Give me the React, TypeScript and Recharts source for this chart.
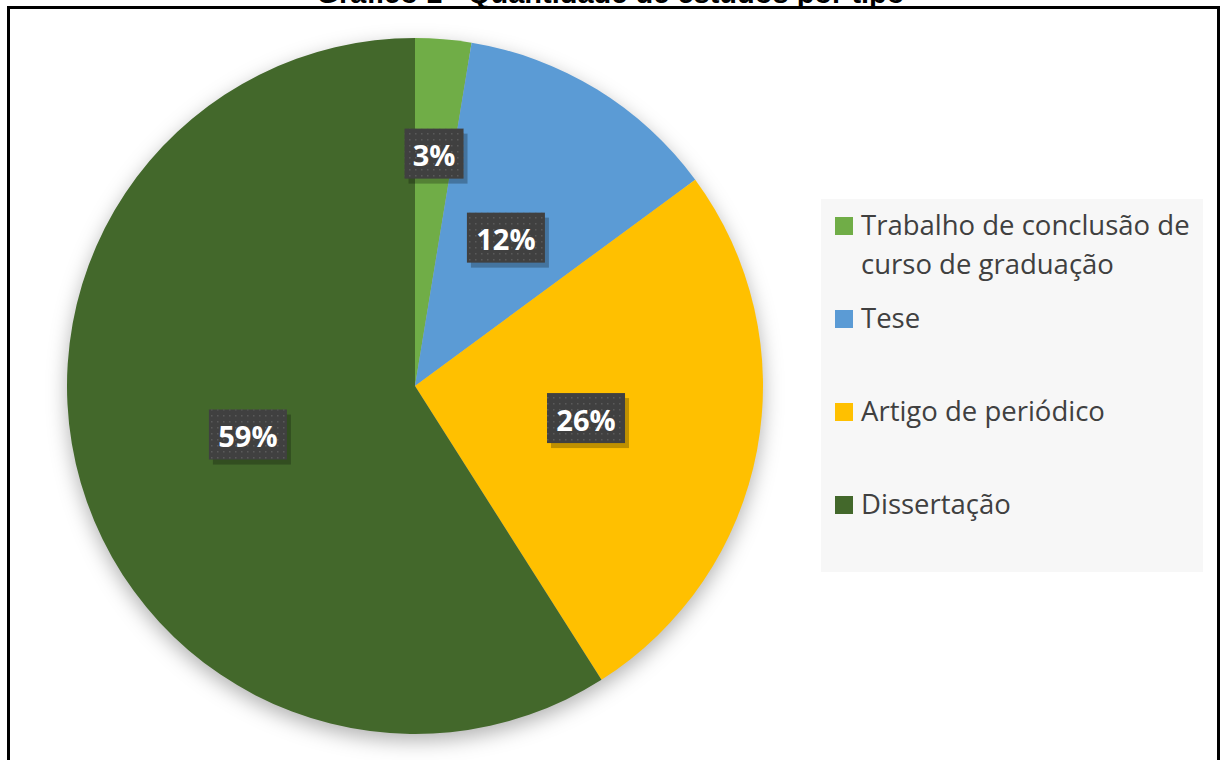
import { PieChart, Pie, Cell, Legend } from 'recharts';

const categories = [
  'Trabalho de conclusão de curso de graduação',
  'Tese',
  'Artigo de periódico',
  'Dissertação',
];
const shares = [2.6, 12.3, 26.1, 59.0];
const colors = ['#70AD47', '#5B9BD5', '#FFC000', '#43682B'];
const title = 'Gráfico 1 - Quantidade de estudos por tipo';

const data = categories.map((name, i) => ({ name, value: shares[i] }));

const RADIAN = Math.PI / 180;

const renderLabel = ({ cx, cy, midAngle, outerRadius, percent }: any) => {
  // small slices get pushed out a bit, like Excel's best fit
  const r = outerRadius * (percent < 0.05 ? 0.67 : 0.5);
  const x = cx + r * Math.cos(-midAngle * RADIAN);
  const y = cy + r * Math.sin(-midAngle * RADIAN);
  const text = `${Math.round(percent * 100)}%`;
  const w = 21 + 19 * text.length;
  const h = 50;
  return (
    <g>
      <rect x={x - w / 2 + 4} y={y - h / 2 + 5} width={w} height={h} fill="#000" opacity={0.25} />
      <rect x={x - w / 2} y={y - h / 2} width={w} height={h} fill="#404040" />
      <rect x={x - w / 2} y={y - h / 2} width={w} height={h} fill="url(#dots)" />
      <text
        x={x}
        y={y + 1}
        fill="#fff"
        textAnchor="middle"
        dominantBaseline="central"
        style={{ fontFamily: '"Open Sans", sans-serif', fontWeight: 700, fontSize: 29 }}
      >
        {text}
      </text>
    </g>
  );
};

const LegendBox = ({ payload }: any) => {
  // keep the slice order, not the alphabetical one
  const items = [...(payload || [])].sort(
    (a: any, b: any) => categories.indexOf(a.value) - categories.indexOf(b.value)
  );
  return (
    <div
      style={{
        background: '#f7f7f7',
        width: 382,
        height: 373,
        boxSizing: 'border-box',
        paddingTop: 7,
        fontFamily: '"Open Sans", sans-serif',
        fontSize: 27.5,
        color: '#404040',
      }}
    >
      {items.map((entry: any, i: number) => (
        <div key={i} style={{ height: 93, display: 'flex', alignItems: 'flex-start' }}>
          <div
            style={{
              width: 18,
              height: 18,
              background: entry.color,
              marginLeft: 14,
              marginTop: 11,
              flex: '0 0 auto',
            }}
          />
          <div style={{ marginLeft: 8, lineHeight: '39px', width: 342, marginTop: -1 }}>{entry.value}</div>
        </div>
      ))}
    </div>
  );
};

export default function App() {
  return (
    <div
      style={{
        position: 'absolute',
        left: 0,
        top: 0,
        width: 1221,
        height: 760,
        overflow: 'hidden',
        background: '#fff',
      }}
    >
      <style>{`.pie-shadow .recharts-pie { filter: drop-shadow(0px 7px 10px rgba(0,0,0,0.3)); }`}</style>
      <div
        style={{
          position: 'absolute',
          top: -21,
          left: 0,
          width: 1221,
          textAlign: 'center',
          fontFamily: '"Liberation Sans", Arial, sans-serif',
          fontWeight: 700,
          fontSize: 29,
          lineHeight: '29px',
          whiteSpace: 'nowrap',
        }}
      >
        {title}
      </div>
      <div
        style={{
          position: 'absolute',
          left: 7,
          top: 6,
          width: 1213,
          height: 800,
          border: '3px solid #000',
          boxSizing: 'border-box',
        }}
      />
      <div className="pie-shadow" style={{ position: 'absolute', left: 0, top: 0 }}>
        <PieChart width={1221} height={760} margin={{ top: 0, right: 0, bottom: 0, left: 0 }}>
          <defs>
            <pattern id="dots" width="6" height="6" patternUnits="userSpaceOnUse">
              <rect x="1" y="1" width="1.5" height="1.5" fill="#5a5a5a" />
            </pattern>
          </defs>
          <Pie
            data={data}
            dataKey="value"
            nameKey="name"
            cx={415}
            cy={386}
            outerRadius={348}
            startAngle={90}
            endAngle={-270}
            stroke="none"
            labelLine={false}
            label={renderLabel}
            isAnimationActive={false}
          >
            {data.map((d, i) => (
              <Cell key={d.name} fill={colors[i]} />
            ))}
          </Pie>
          <Legend
            layout="vertical"
            content={<LegendBox />}
            wrapperStyle={{ position: 'absolute', left: 821, top: 199, width: 382, height: 373 }}
          />
        </PieChart>
      </div>
    </div>
  );
}
